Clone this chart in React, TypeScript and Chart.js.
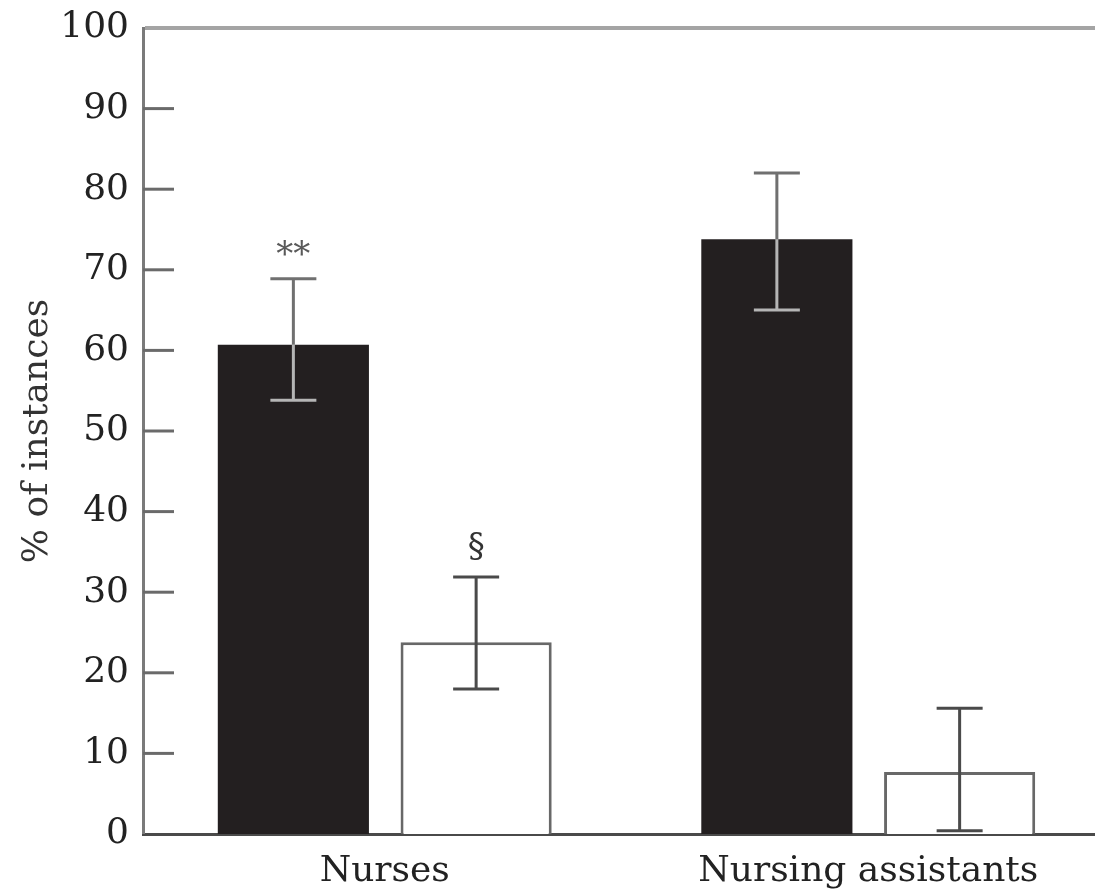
import React, { useEffect, useRef } from "react";
import { Chart, registerables } from "chart.js";

Chart.register(...registerables);

// ---- data ----
const categories = ["Nurses", "Nursing assistants"];
const seriesBlack = [60.7, 73.8];
const seriesWhite = [23.8, 7.7];
const errBlackLow = [53.8, 65.0];
const errBlackHigh = [68.9, 82.0];
const errWhiteLow = [18.0, 0.4];
const errWhiteHigh = [31.9, 15.6];
const annotBlack = ["**", ""];
const annotWhite = ["§", ""];
const yTickValues = [0, 10, 20, 30, 40, 50, 60, 70, 80, 90, 100];
const yTitle = "% of instances";

const FONT = "'DejaVu Serif', 'Liberation Serif', serif";

const errLows = [errBlackLow, errWhiteLow];
const errHighs = [errBlackHigh, errWhiteHigh];
const annots = [annotBlack, annotWhite];

const errorBarPlugin = {
  id: "errorBars",
  afterDatasetsDraw(chart: any) {
    const ctx = chart.ctx;
    const y = chart.scales.y;
    chart.data.datasets.forEach((ds: any, i: number) => {
      const meta = chart.getDatasetMeta(i);
      meta.data.forEach((el: any, j: number) => {
        const x = el.x;
        const yLo = y.getPixelForValue(errLows[i][j]);
        const yHi = y.getPixelForValue(errHighs[i][j]);
        const yTop = el.y;
        const half = 23;
        ctx.save();
        ctx.lineWidth = 3;
        if (i === 0) {
          ctx.strokeStyle = "#707070";
          ctx.beginPath();
          ctx.moveTo(x, yHi);
          ctx.lineTo(x, yTop);
          ctx.moveTo(x - half, yHi);
          ctx.lineTo(x + half, yHi);
          ctx.stroke();
          ctx.strokeStyle = "#b5b5b5";
          ctx.beginPath();
          ctx.moveTo(x, yTop);
          ctx.lineTo(x, yLo);
          ctx.moveTo(x - half, yLo);
          ctx.lineTo(x + half, yLo);
          ctx.stroke();
        } else {
          ctx.strokeStyle = "#4a4a4a";
          ctx.beginPath();
          ctx.moveTo(x, yHi);
          ctx.lineTo(x, yLo);
          ctx.moveTo(x - half, yHi);
          ctx.lineTo(x + half, yHi);
          ctx.moveTo(x - half, yLo);
          ctx.lineTo(x + half, yLo);
          ctx.stroke();
        }
        const txt = annots[i][j];
        if (txt) {
          ctx.font = `34px ${FONT}`;
          ctx.fillStyle = i === 0 ? "#5a5a5a" : "#333333";
          ctx.textAlign = "center";
          ctx.textBaseline = "alphabetic";
          const m = ctx.measureText(txt);
          const inkMid = (m.actualBoundingBoxAscent - m.actualBoundingBoxDescent) / 2;
          const centerY = yHi - 31;
          ctx.fillText(txt, x, centerY + inkMid);
        }
        ctx.restore();
      });
    });
  },
};

const innerTicksPlugin = {
  id: "innerTicks",
  beforeDatasetsDraw(chart: any) {
    const ctx = chart.ctx;
    const y = chart.scales.y;
    const left = chart.chartArea.left;
    ctx.save();
    ctx.strokeStyle = "#6a6a6a";
    ctx.lineWidth = 3;
    y.ticks.forEach((t: any) => {
      if (t.value === 0 || t.value === 100) return;
      const py = y.getPixelForValue(t.value);
      ctx.beginPath();
      ctx.moveTo(left, py);
      ctx.lineTo(left + 31, py);
      ctx.stroke();
    });
    ctx.restore();
  },
};

export default function App() {
  const ref = useRef<HTMLCanvasElement>(null);
  useEffect(() => {
    const canvas = ref.current!;
    const chart = new Chart(canvas, {
      type: "bar",
      data: {
        labels: categories,
        datasets: [
          {
            label: "black",
            data: seriesBlack,
            backgroundColor: "#231f20",
            borderWidth: 0,
            categoryPercentage: 0.756,
            barPercentage: 0.827,
          },
          {
            label: "white",
            data: seriesWhite,
            backgroundColor: "#ffffff",
            borderColor: "#686868",
            borderWidth: 3,
            categoryPercentage: 0.756,
            barPercentage: 0.827,
          },
        ],
      },
      options: {
        responsive: false,
        animation: false,
        devicePixelRatio: 1,
        layout: { padding: { top: 28, right: 2, left: 0, bottom: 0 } },
        plugins: {
          legend: { display: false },
          tooltip: { enabled: false },
        },
        scales: {
          x: {
            type: "category",
            grid: { display: false, drawTicks: false },
            border: { display: true, color: "#4a4a4a", width: 3 },
            ticks: {
              color: "#222222",
              font: { family: FONT, size: 36 },
              padding: 16,
              maxRotation: 0,
              autoSkip: false,
            },
            afterFit(scale: any) {
              scale.height = 55;
              scale.paddingLeft = 0;
              scale.paddingRight = 0;
            },
          },
          y: {
            min: 0,
            max: 100,
            afterBuildTicks(scale: any) {
              scale.ticks = yTickValues.map((v) => ({ value: v }));
            },
            grid: {
              display: true,
              drawOnChartArea: true,
              drawTicks: false,
              color: (c: any) => (c.tick && c.tick.value === 100 ? "#a4a4a4" : "rgba(0,0,0,0)"),
              lineWidth: (c: any) => (c.tick && c.tick.value === 100 ? 4 : 0),
            },
            border: { display: true, color: "#7a7a7a", width: 3 },
            ticks: {
              color: "#222222",
              font: { family: FONT, size: 36 },
              padding: 14,
            },
            title: {
              display: true,
              text: yTitle,
              color: "#333333",
              font: { family: FONT, size: 36 },
              padding: { top: 16, bottom: 0 },
            },
            afterFit(scale: any) {
              scale.width = 143;
              scale.paddingTop = 0;
              scale.paddingBottom = 0;
            },
          },
        },
      },
      plugins: [innerTicksPlugin, errorBarPlugin],
    } as any);
    return () => chart.destroy();
  }, []);

  return (
    <div
      style={{
        position: "absolute",
        left: 0,
        top: 0,
        width: 1095,
        height: 889,
        overflow: "hidden",
        background: "#ffffff",
      }}
    >
      <canvas ref={ref} width={1112} height={889} style={{ width: 1112, height: 889, display: "block" }} />
    </div>
  );
}
